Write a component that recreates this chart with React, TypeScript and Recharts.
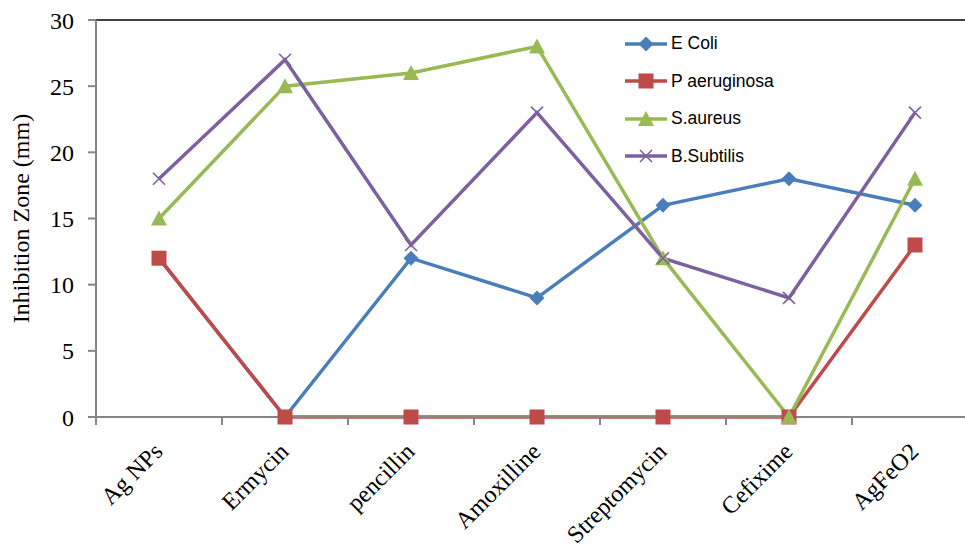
import { LineChart, Line, XAxis, YAxis, ReferenceLine } from 'recharts';

const categories = ['Ag NPs', 'Ermycin', 'pencillin', 'Amoxilline', 'Streptomycin', 'Cefixime', 'AgFeO2'];
const eColi = [12, 0, 12, 9, 16, 18, 16];
const pAeruginosa = [12, 0, 0, 0, 0, 0, 13];
const sAureus = [15, 25, 26, 28, 12, 0, 18];
const bSubtilis = [18, 27, 13, 23, 12, 9, 23];
const yTicks = [0, 5, 10, 15, 20, 25, 30];

const data = categories.map((name, i) => ({
  name,
  eColi: eColi[i],
  pAeruginosa: pAeruginosa[i],
  sAureus: sAureus[i],
  bSubtilis: bSubtilis[i],
}));

const SERIES = [
  { key: 'eColi', label: 'E Coli', color: '#4a7ebb', shape: 'diamond' },
  { key: 'pAeruginosa', label: 'P aeruginosa', color: '#be4b48', shape: 'square' },
  { key: 'sAureus', label: 'S.aureus', color: '#98b954', shape: 'triangle' },
  { key: 'bSubtilis', label: 'B.Subtilis', color: '#7d60a0', shape: 'cross' },
];

const SERIF = '"Liberation Serif", "Times New Roman", serif';
const SANS = '"Liberation Sans", Arial, sans-serif';
const HALF = 63;

function Marker({ cx, cy, shape, color }: { cx: number; cy: number; shape: string; color: string }) {
  if (cx == null || cy == null) return null;
  if (shape === 'diamond') {
    return <path d={`M${cx},${cy - 7.5} L${cx + 7.5},${cy} L${cx},${cy + 7.5} L${cx - 7.5},${cy} Z`} fill={color} />;
  }
  if (shape === 'square') {
    return <rect x={cx - 7.5} y={cy - 7.5} width={15} height={15} fill={color} />;
  }
  if (shape === 'triangle') {
    return <path d={`M${cx},${cy - 8} L${cx + 8},${cy + 7} L${cx - 8},${cy + 7} Z`} fill={color} />;
  }
  return (
    <g stroke={color} strokeWidth={1.6}>
      <line x1={cx - 6} y1={cy - 6} x2={cx + 6} y2={cy + 6} />
      <line x1={cx - 6} y1={cy + 6} x2={cx + 6} y2={cy - 6} />
    </g>
  );
}

function XTick(props: any) {
  const { x, y, payload, index } = props;
  const tx = x + 5;
  const ty = y + 36;
  return (
    <g>
      <line x1={x - HALF} y1={y} x2={x - HALF} y2={y + 8} stroke="#868686" strokeWidth={2} />
      {index === categories.length - 1 && (
        <line x1={x + HALF} y1={y} x2={x + HALF} y2={y + 8} stroke="#868686" strokeWidth={2} />
      )}
      <text x={tx} y={ty} transform={`rotate(-45 ${tx} ${ty})`} textAnchor="end" fontFamily={SERIF} fontSize={24} fill="#000">
        {payload.value}
      </text>
    </g>
  );
}

function LegendBox() {
  return (
    <div style={{ position: 'absolute', left: 625, top: 25, fontFamily: SANS, fontSize: 17.5, color: '#000' }}>
      {SERIES.map((s) => (
        <div key={s.key} style={{ display: 'flex', alignItems: 'center', height: 37.5 }}>
          <svg width={44} height={20}>
            <line x1={0} y1={10} x2={42} y2={10} stroke={s.color} strokeWidth={3.5} />
            <Marker cx={21} cy={10} shape={s.shape} color={s.color} />
          </svg>
          <span style={{ marginLeft: 2 }}>{s.label}</span>
        </div>
      ))}
    </div>
  );
}

export default function App() {
  return (
    <div style={{ position: 'absolute', left: 0, top: 0, width: 965, height: 548, overflow: 'hidden', background: '#fff' }}>
      <LineChart width={992} height={548} data={data} margin={{ top: 20, right: 14, bottom: 0, left: 0 }}>
        <XAxis
          dataKey="name"
          padding={{ left: HALF, right: HALF }}
          height={131}
          tickLine={false}
          tickSize={0}
          tickMargin={0}
          axisLine={{ stroke: '#868686', strokeWidth: 2 }}
          tick={<XTick />}
          interval={0}
        />
        <YAxis
          domain={[0, 30]}
          ticks={yTicks}
          width={96}
          tickSize={8}
          tickMargin={14}
          tickLine={{ stroke: '#868686', strokeWidth: 2 }}
          axisLine={{ stroke: '#868686', strokeWidth: 2 }}
          tick={{ fontFamily: SERIF, fontSize: 24, fill: '#000' }}
          label={{
            value: 'Inhibition Zone (mm)',
            angle: -90,
            position: 'insideLeft',
            dx: 15,
            style: { fontFamily: SERIF, fontSize: 24, fill: '#000', textAnchor: 'middle' },
          }}
        />
        <ReferenceLine y={30} stroke="#000" strokeWidth={1.5} />
        {SERIES.map((s) => (
          <Line
            key={s.key}
            dataKey={s.key}
            name={s.label}
            stroke={s.color}
            strokeWidth={3.5}
            isAnimationActive={false}
            dot={(p: any) => <Marker key={`${s.key}-${p.index}`} cx={p.cx} cy={p.cy} shape={s.shape} color={s.color} />}
            activeDot={false}
          />
        ))}
      </LineChart>
      <LegendBox />
    </div>
  );
}
